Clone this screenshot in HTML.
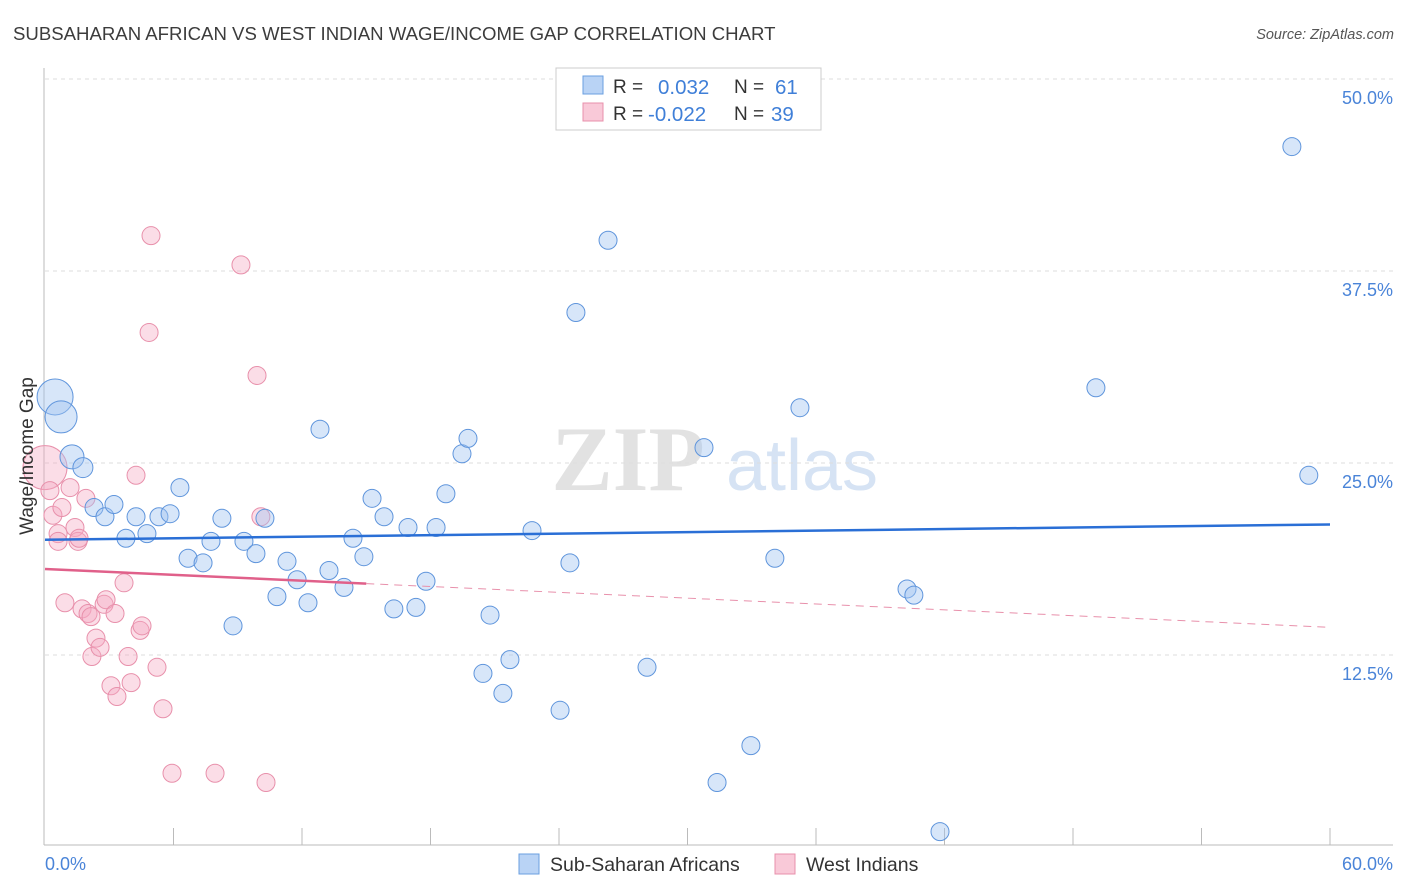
<!DOCTYPE html>
<html><head><meta charset="utf-8"><style>
body{margin:0;background:#fff;font-family:"Liberation Sans",sans-serif}
svg{display:block}
</style></head><body>
<svg id="chart" width="1406" height="892">
<text x="13" y="40" font-size="18.6" fill="#3c3c3c">SUBSAHARAN AFRICAN VS WEST INDIAN WAGE/INCOME GAP CORRELATION CHART</text>
<text x="1394" y="39" font-size="14.5" fill="#555" font-style="italic" text-anchor="end">Source: ZipAtlas.com</text>
<g>
<text x="628" y="490" font-size="92" fill="#e2e2e2" font-family="Liberation Serif" text-anchor="middle" font-weight="bold">ZIP</text>
<text x="802" y="490" font-size="72" fill="#d6e3f4" text-anchor="middle">atlas</text>
</g>
<g id="grid"></g>
<g id="axes"></g>
<g id="marks"></g>
<text x="33" y="456" font-size="19" fill="#333" text-anchor="middle" transform="rotate(-90 33 456)">Wage/Income Gap</text>
<g>
<rect x="556" y="68" width="265" height="62" fill="#fff" stroke="#ccc"/>
<rect x="583" y="76" width="20" height="18" fill="#b9d3f5" stroke="#6a9fe0"/>
<rect x="583" y="103" width="20" height="18" fill="#f9c9d8" stroke="#e890ab"/>
<text x="613" y="93" font-size="19" fill="#333">R =</text><text x="658" y="94" font-size="20.5" fill="#3f7fd8">0.032</text>
<text x="734" y="93" font-size="19" fill="#333">N =</text><text x="775" y="94" font-size="20.5" fill="#3f7fd8">61</text>
<text x="613" y="120" font-size="19" fill="#333">R =</text><text x="648" y="121" font-size="20.5" fill="#3f7fd8">-0.022</text>
<text x="734" y="120" font-size="19" fill="#333">N =</text><text x="771" y="121" font-size="20.5" fill="#3f7fd8">39</text>
</g>
<g>
<rect x="519" y="854" width="20" height="20" fill="#b9d3f5" stroke="#6a9fe0"/>
<text x="550" y="871" font-size="19.5" fill="#333">Sub-Saharan Africans</text>
<rect x="775" y="854" width="20" height="20" fill="#f9c9d8" stroke="#e890ab"/>
<text x="806" y="871" font-size="19.5" fill="#333">West Indians</text>
</g>
</svg>
<script>
const blueX=[0.47,0.75,1.26,1.77,2.29,2.80,3.22,3.78,4.25,4.76,5.32,5.84,6.30,6.68,7.38,7.75,8.26,8.78,9.29,9.85,10.27,10.83,11.30,11.77,12.28,12.84,13.26,13.96,14.38,14.89,15.83,15.27,16.29,16.95,17.32,17.79,18.26,18.72,19.47,19.75,20.45,20.78,21.38,21.71,22.74,24.05,24.51,24.79,26.29,28.11,30.77,32.96,34.08,35.25,40.25,40.57,41.79,49.07,58.22,59.01,31.38];
const blueY=[29.3,28.0,25.4,24.7,22.1,21.5,22.3,20.1,21.5,20.4,21.5,21.7,23.4,18.8,18.5,19.9,21.4,14.4,19.9,19.1,21.4,16.3,18.6,17.4,15.9,27.2,18.0,16.9,20.1,18.9,21.5,22.7,15.5,20.8,15.6,17.3,20.8,23.0,25.6,26.6,11.3,15.1,10.0,12.2,20.6,8.9,18.5,34.8,39.5,11.7,26.0,6.6,18.8,28.6,16.8,16.4,1.0,29.9,45.6,24.2,4.2];
const blueR=[18,16,12,10];
const pinkX=[0,0.23,0.37,0.79,0.93,1.17,1.40,1.54,1.91,0.61,0.61,1.73,2.01,2.15,2.38,2.19,2.57,2.76,2.85,3.27,3.08,3.36,3.69,3.88,4.02,4.25,4.44,4.53,4.95,4.86,5.23,5.51,5.93,7.94,9.15,9.90,10.08,10.32,1.59];
const pinkY=[24.7,23.2,21.6,22.1,15.9,23.4,20.8,19.9,22.7,20.4,19.9,15.5,15.2,15.0,13.6,12.4,13.0,15.8,16.1,15.2,10.5,9.8,17.2,12.4,10.7,24.2,14.1,14.4,39.8,33.5,11.7,9.0,4.8,4.8,37.9,30.7,21.5,4.2,20.1];
const pinkR=[22];
const blueTrend=[20.0,21.0];
const pinkTrend=[18.1,14.3];
const pinkSolidEnd=[15];
const yTicks=[12.5,25,37.5,50];
const yTickLabels=["12.5%","25.0%","37.5%","50.0%"];
const xTicks=[6,12,18,24,30,36,42,48,54,60];
const NS="http://www.w3.org/2000/svg";
const sx=v=>45+v/60*1285, sy=v=>847-v/12.5*192;
function mk(tag,attrs,parent){const e=document.createElementNS(NS,tag);for(const k in attrs)e.setAttribute(k,attrs[k]);parent.appendChild(e);return e;}
const grid=document.getElementById('grid'),axes=document.getElementById('axes'),marks=document.getElementById('marks');
yTicks.forEach((t,i)=>{
 const l=mk('line',{x1:45,x2:1393,y1:sy(t),y2:sy(t),stroke:'#ddd','stroke-dasharray':'4,4'},grid);
 
 
 const tx=mk('text',{x:1393,y:sy(t)+25,'font-size':18,fill:'#4a84d8','text-anchor':'end'},grid);
 tx.textContent=yTickLabels[i];
 
 
});
let a=mk('line',{x1:44,x2:44,y1:68,y2:845,stroke:'#bbb'},axes);


a=mk('line',{x1:44,x2:1393,y1:845,y2:845,stroke:'#bbb'},axes);


xTicks.forEach(t=>{const l=mk('line',{x1:sx(t),x2:sx(t),y1:828,y2:845,stroke:'#bbb'},axes);
 
 });
let t=mk('text',{x:45,y:870,'font-size':18,fill:'#4a84d8'},axes);t.textContent='0.0%';


t=mk('text',{x:1393,y:870,'font-size':18,fill:'#4a84d8','text-anchor':'end'},axes);t.textContent='60.0%';


pinkX.forEach((x,i)=>{const c=mk('circle',{cx:sx(x),cy:sy(pinkY[i]),r:pinkR[i]||9,fill:'rgba(245,170,195,0.4)',stroke:'#e890ab','stroke-width':1},marks);
 
 });
blueX.forEach((x,i)=>{const c=mk('circle',{cx:sx(x),cy:sy(blueY[i]),r:blueR[i]||9,fill:'rgba(160,195,240,0.42)',stroke:'#5f95dc','stroke-width':1},marks);
 
 });
let ln=mk('line',{x1:sx(0),x2:sx(60),y1:sy(blueTrend[0]),y2:sy(blueTrend[1]),stroke:'#2a6fd6','stroke-width':2.5},marks);


const pAt=x=>pinkTrend[0]+(pinkTrend[1]-pinkTrend[0])*x/60;
ln=mk('line',{x1:sx(0),x2:sx(pinkSolidEnd[0]),y1:sy(pAt(0)),y2:sy(pAt(pinkSolidEnd[0])),stroke:'#e0608a','stroke-width':2.5},marks);


ln=mk('line',{x1:sx(pinkSolidEnd[0]),x2:sx(60),y1:sy(pAt(pinkSolidEnd[0])),y2:sy(pAt(60)),stroke:'#e890ab','stroke-width':1,'stroke-dasharray':'8,6'},marks);


</script>
</body></html>
